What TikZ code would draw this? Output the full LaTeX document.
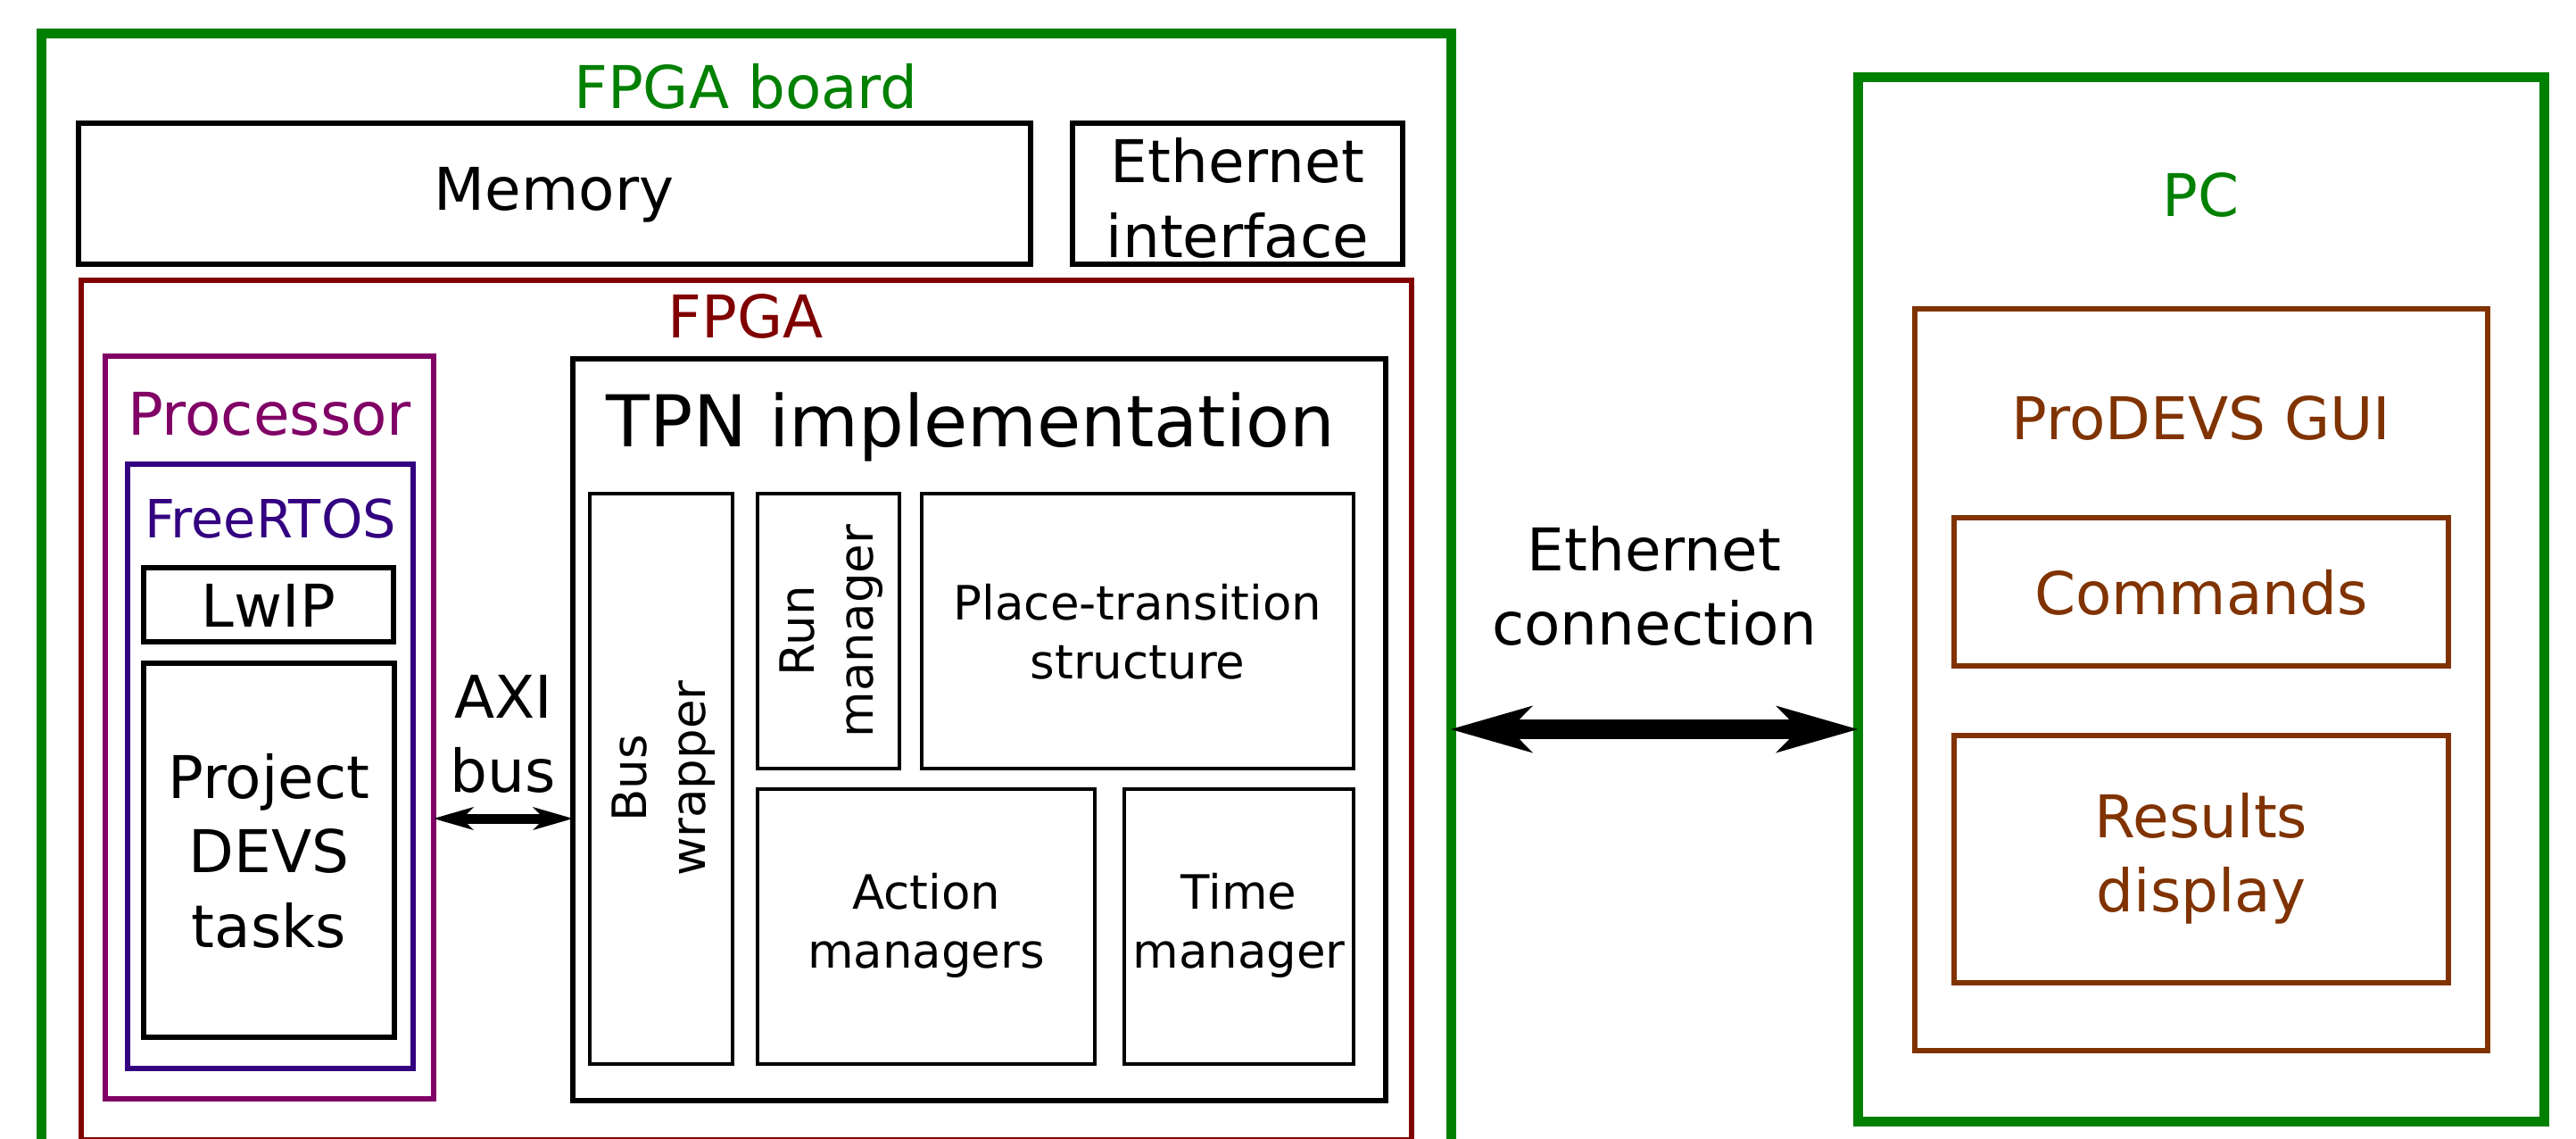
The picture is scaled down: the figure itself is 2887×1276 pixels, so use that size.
\documentclass[tikz,border=0pt]{standalone}
\usepackage{fontspec}
\setmainfont{DejaVu Sans}
\usetikzlibrary{fit,arrows.meta}

\definecolor{boardgreen}{RGB}{0,128,0}
\definecolor{fpgared}{RGB}{128,0,0}
\definecolor{cpupurple}{RGB}{128,0,102}
\definecolor{rtosindigo}{RGB}{51,0,128}
\definecolor{guibrown}{RGB}{128,51,0}

% centred multi-line labels whose baseline is that of the first line
\newcommand\twoline[2]{\vtop{\halign{\hfil##\hfil\cr #1\cr #2\cr}}}
\newcommand\threeline[3]{\vtop{\halign{\hfil##\hfil\cr #1\cr #2\cr #3\cr}}}

\tikzset{
  frame/.style={draw, inner sep=0pt, outer sep=0pt},
  greenframe/.style={frame, draw=boardgreen, line width=11pt},
  redframe/.style={frame, draw=fpgared, line width=6pt},
  purpleframe/.style={frame, draw=cpupurple, line width=6pt},
  indigoframe/.style={frame, draw=rtosindigo, line width=6pt},
  brownframe/.style={frame, draw=guibrown, line width=6.5pt},
  blackframe/.style={frame, draw=black, line width=6pt},
  tpnframe/.style={frame, draw=black, line width=6.5pt},
  thinframe/.style={frame, draw=black, line width=4pt},
  lbl/.style={inner sep=0pt, outer sep=0pt, anchor=base},
  big/.style={lbl, font=\fontsize{66}{83.5}\selectfont},
  rtosfont/.style={lbl, font=\fontsize{59}{72}\selectfont},
  small/.style={lbl, font=\fontsize{53}{66}\selectfont},
  huge/.style={lbl, font=\fontsize{80}{96}\selectfont},
  axiarrow/.style={line width=11pt,
    {Stealth[length=45pt,width=26pt,inset=13pt,line width=0pt]}-{Stealth[length=45pt,width=26pt,inset=13pt,line width=0pt]}},
  etharrow/.style={line width=22pt,
    {Stealth[length=92pt,width=53pt,inset=26pt,line width=0pt]}-{Stealth[length=92pt,width=53pt,inset=26pt,line width=0pt]}},
}

\begin{document}
\begin{tikzpicture}[x=1pt, y=-1pt]
\useasboundingbox (0,0) rectangle (2887,1276);
\clip (0,0) rectangle (2887,1276);

% ---- FPGA board ----
\node[greenframe, fit={(46,38) (1626,1320)}] (board) {};
\node[big, text=boardgreen] (boardlbl) at (836,122) {FPGA board};

\node[blackframe, fit={(88,138) (1155,296)}] (memory) {};
\node[big] (memorylbl) at (621,235) {Memory};

\node[blackframe, fit={(1202,138) (1572,296)}] (ethif) {};
\node[big] (ethiflbl) at (1387,204.5) {\twoline{Ethernet}{interface}};

% ---- FPGA ----
\node[redframe, fit={(91,314) (1582,1277)}] (fpga) {};
\node[big, text=fpgared] (fpgalbl) at (836,378) {FPGA};

% processor side
\node[purpleframe, fit={(118,399) (486,1231)}] (cpu) {};
\node[big, text=cpupurple] (cpulbl) at (302,487) {Processor};

\node[indigoframe, fit={(143,520) (463,1197)}] (rtos) {};
\node[rtosfont, text=rtosindigo] (rtoslbl) at (303,602) {FreeRTOS};

\node[blackframe, line width=5.5pt, fit={(161,636) (441,719)}] (lwip) {};
\node[big] (lwiplbl) at (301,702) {LwIP};

\node[blackframe, line width=5.5pt, fit={(161,743) (442,1162)}] (tasks) {};
\node[big] (taskslbl) at (301.5,894) {\threeline{Project}{DEVS}{tasks}};

% TPN implementation
\node[tpnframe, fit={(642,402) (1553,1233)}] (tpn) {};
\node[huge] (tpnlbl) at (1088,500) {TPN implementation};

\node[thinframe, fit={(661,553) (821,1192)}] (buswrap) {};
\node[small, rotate=90] (buswraplbl) at (724,872) {\twoline{Bus}{wrapper}};

\node[thinframe, fit={(849,553) (1008,861)}] (runmgr) {};
\node[small, rotate=90] (runmgrlbl) at (912,707) {\twoline{Run}{manager}};

\node[thinframe, fit={(1033,553) (1517,861)}] (ptstruct) {};
\node[small] (ptstructlbl) at (1275,694) {\twoline{Place-transition}{structure}};

\node[thinframe, fit={(849,884) (1227,1192)}] (actmgr) {};
\node[small] (actmgrlbl) at (1038,1018) {\twoline{Action}{managers}};

\node[thinframe, fit={(1260,884) (1517,1192)}] (timemgr) {};
\node[small] (timemgrlbl) at (1388.5,1018) {\twoline{Time}{manager}};

% AXI bus link
\node[big] (axilbl) at (564,804) {\twoline{AXI}{bus}};
\draw[axiarrow] (cpu.east |- 0,917) -- (tpn.west |- 0,917);

% ---- PC ----
\node[greenframe, fit={(2082,87) (2851,1256)}] (pc) {};
\node[big, text=boardgreen] (pclbl) at (2466.5,242) {PC};

\node[brownframe, fit={(2146,346) (2788,1177)}] (gui) {};
\node[big, text=guibrown] (guilbl) at (2467,492) {ProDEVS GUI};

\node[brownframe, fit={(2190,580) (2744,746)}] (cmds) {};
\node[big, text=guibrown] (cmdslbl) at (2467,688) {Commands};

\node[brownframe, fit={(2190,824) (2744,1101)}] (results) {};
\node[big, text=guibrown] (resultslbl) at (2467,938) {\twoline{Results}{display}};

% Ethernet link between board and PC
\node[big] (ethlbl) at (1854,639) {\twoline{Ethernet}{connection}};
\draw[etharrow] (board.east |- 0,817) -- (pc.west |- 0,817);
\end{tikzpicture}
\end{document}
